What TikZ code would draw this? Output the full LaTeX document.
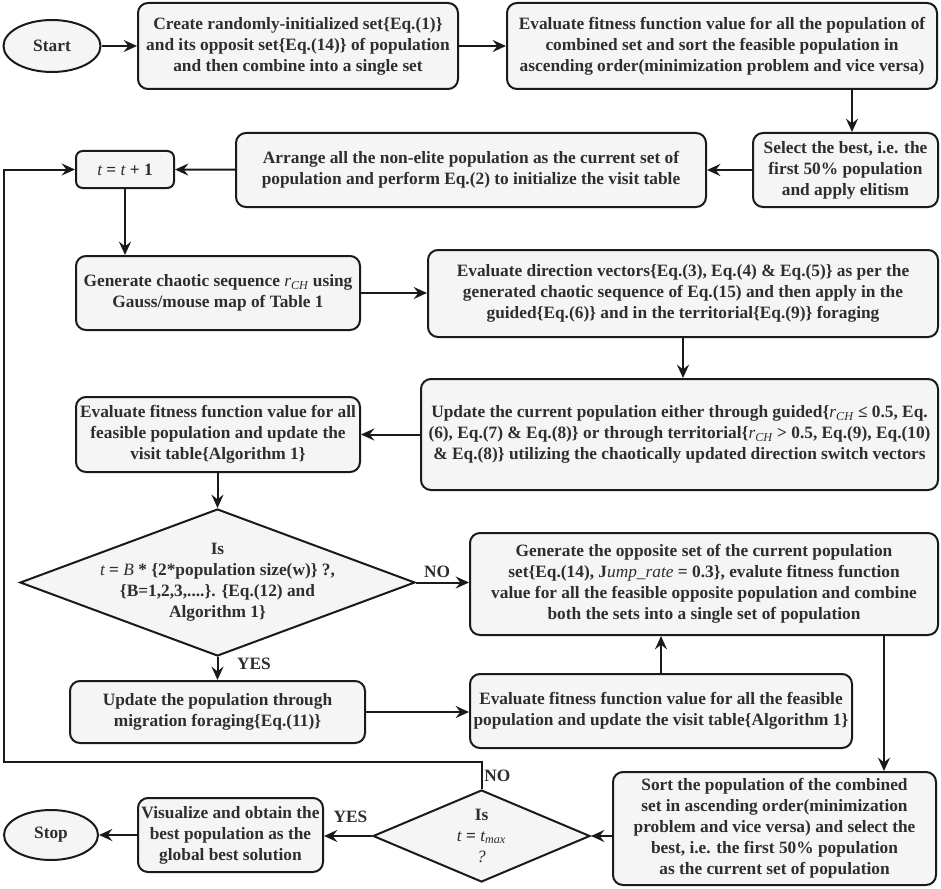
\documentclass[tikz,border=0pt]{standalone}
\usepackage{fontspec}
\setmainfont{Liberation Serif}
\usetikzlibrary{shapes.geometric,arrows.meta}
\definecolor{lc}{HTML}{1A1A1A}
\definecolor{bf}{HTML}{F5F5F5}
\definecolor{tc}{HTML}{2E2E2E}
\newcommand\tit[1]{{\mdseries\itshape #1}}
\newcommand\rch{\tit{r}\textsubscript{\tit{CH}}}
\begin{document}
\begin{tikzpicture}[x=0.75pt,y=-0.75pt,
  txtfont/.style={font=\bfseries\fontsize{13}{15.75}\selectfont, text=tc},
  box/.style={draw=lc, fill=bf, line width=1.5pt, rounded corners=7.5pt, align=center, txtfont, inner sep=1pt},
  wh/.style 2 args={minimum width=#1*0.75pt, minimum height=#2*0.75pt},
  oval/.style={ellipse, draw=lc, fill=bf, line width=1.5pt, txtfont, inner sep=0pt},
  dia/.style={diamond, draw=lc, fill=bf, line width=1.5pt, inner sep=0pt},
  dtext/.style={align=center, txtfont, inner sep=0pt},
  lbl/.style={txtfont, inner sep=0pt},
  arr/.style={draw=lc, line width=1.5pt, -{Stealth[length=10pt,width=9pt,inset=3.5pt]}}]
\useasboundingbox (0,0) rectangle (941,888);

\node[oval, wh={97}{52}] (start) at (52,46) {Start};
\node[box, wh={320}{86}] (b1) at (298,46) {Create randomly-initialized set\{Eq.(1)\}\\ and its opposit set\{Eq.(14)\} of population\\ and then combine into a single set};
\node[box, wh={430}{86}] (b2) at (722,46) {Evaluate fitness function value for all the population of\\ combined set and sort the feasible population in\\ ascending order(minimization problem and vice versa)};
\node[box, wh={185}{74}] (sel) at (845.5,170) {Select the best, i.e. the\\ first 50\% population\\ and apply elitism};
\node[box, wh={470}{74}] (arrg) at (471,170) {Arrange all the non-elite population as the current set of\\ population and perform Eq.(2) to initialize the visit table};
\node[box, wh={98}{37}, rounded corners=5pt] (tb) at (125,169.5) {\tit{t} = \tit{t} + 1};
\node[box, wh={284}{74}] (chaos) at (218,293) {Generate chaotic sequence \rch{} using\\ Gauss/mouse map of Table 1};
\node[box, wh={510}{87}] (dir) at (683,293.5) {Evaluate direction vectors\{Eq.(3), Eq.(4) \& Eq.(5)\} as per the\\ generated chaotic sequence of Eq.(15) and then apply in the\\ guided\{Eq.(6)\} and in the territorial\{Eq.(9)\} foraging};
\node[box, wh={517}{111}] (upd) at (679.5,434.5) {Update the current population either through guided\{\rch{} ≤ 0.5, Eq.\\ (6), Eq.(7) \& Eq.(8)\} or through territorial\{\rch{} > 0.5, Eq.(9), Eq.(10)\\ \& Eq.(8)\} utilizing the chaotically updated direction switch vectors};
\node[box, wh={284}{75}] (evl) at (218,434.5) {Evaluate fitness function value for all\\ feasible population and update the\\ visit table\{Algorithm 1\}};
\node[dia, minimum width=395*0.75pt, minimum height=147*0.75pt] (d1) at (217.5,582.5) {};
\node[dtext] (d1t) at (d1.center) {Is\\ \tit{t} = \tit{B} * \{2*population size(w)\} ?,\\ \{B=1,2,3,....\}. \{Eq.(12) and\\ Algorithm 1\}};
\node[box, wh={468}{102}] (opp) at (704,584) {Generate the opposite set of the current population\\ set\{Eq.(14), J\tit{ump\_rate} = 0.3\}, evalute fitness function\\ value for all the feasible opposite population and combine\\ both the sets into a single set of population};
\node[box, wh={295}{62}] (mig) at (217.5,712) {Update the population through\\ migration foraging\{Eq.(11)\}};
\node[box, wh={382}{74}] (evr) at (661,711) {Evaluate fitness function value for all the feasible\\ population and update the visit table\{Algorithm 1\}};
\node[dia, minimum width=217*0.75pt, minimum height=92*0.75pt] (d2) at (481.5,836) {};
\node[dtext] (d2t) at (d2.center) {Is\\ \tit{t} = \tit{t}\textsubscript{\tit{max}}\\ \tit{?}};
\node[box, wh={323}{113}] (sort) at (774.5,828.5) {Sort the population of the combined\\ set in ascending order(minimization\\ problem and vice versa) and select the\\ best, i.e. the first 50\% population\\ as the current set of population};
\node[box, wh={185}{74}] (vis) at (230.5,835) {Visualize and obtain the\\ best population as the\\ global best solution};
\node[oval, wh={94}{50}] (stop) at (51,835) {Stop};

\coordinate (c1) at (852,0);
\coordinate (c2) at (884,0);
\coordinate (lp1) at (4,762);

\draw[arr] (start) -- (b1);
\draw[arr] (b1) -- (b2);
\draw[arr] (b2.south -| c1) -- (sel.north -| c1);
\draw[arr] (sel) -- (arrg);
\draw[arr] (arrg) -- (tb);
\draw[arr] (tb.south) -- (tb.south |- chaos.north);
\draw[arr] (chaos) -- (dir.west |- chaos.east);
\draw[arr] (dir.south) -- (dir.south |- upd.north);
\draw[arr] (upd.west |- evl.east) -- (evl.east);
\draw[arr] (evl.south -| d1.north) -- (d1.north);
\draw[arr] (d1.east) -- (opp.west |- d1.east) node[lbl, pos=0.4, above=3pt] (no1) {NO};
\draw[arr] (d1.south) -- (mig.north -| d1.south) node[lbl, pos=0.3, right=14pt] (yes1) {YES};
\draw[arr] (mig.east) -- (evr.west |- mig.east);
\draw[arr] (evr.north) -- (opp.south -| evr.north);
\draw[arr] (opp.south -| c2) -- (sort.north -| c2);
\draw[arr] (sort.west |- d2.east) -- (d2.east);
\draw[arr] (d2.west) -- (vis.east |- d2.west) node[lbl, pos=0.45, above=9pt] (yes2) {YES};
\draw[arr] (vis.west |- stop.east) -- (stop.east);
\draw[arr] (d2.north) |- (lp1) |- (tb.west);
\node[lbl, anchor=west] (no2) at (484,776) {NO};
\end{tikzpicture}
\end{document}
